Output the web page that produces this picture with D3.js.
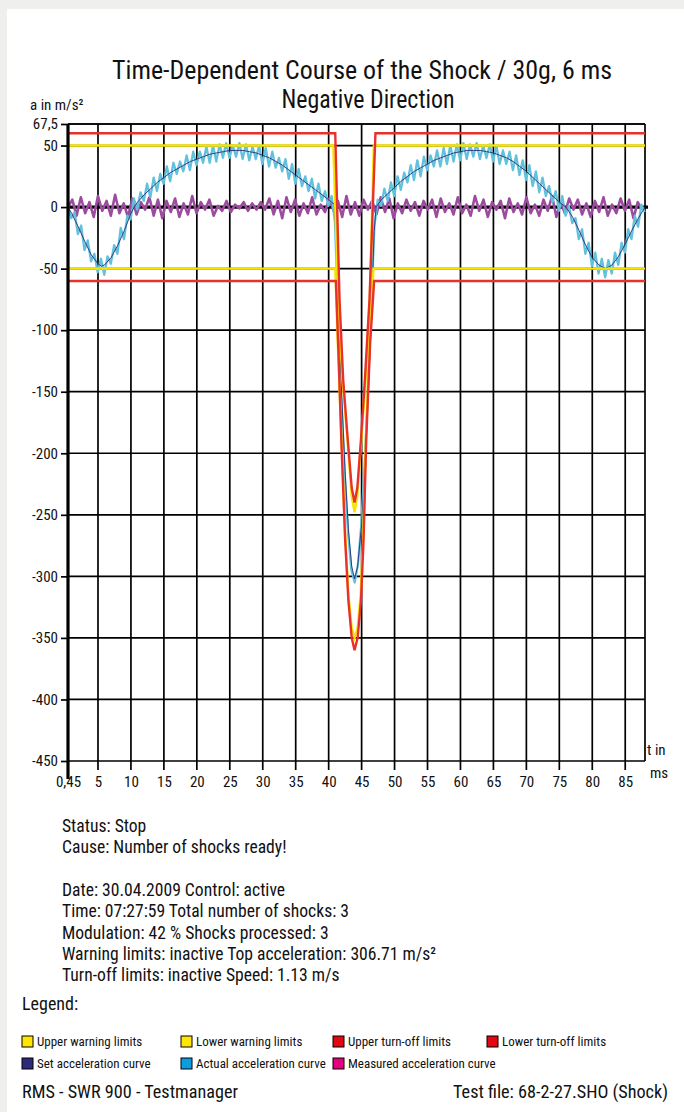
<!DOCTYPE html>
<html><head><meta charset="utf-8">
<script src="https://cdn.jsdelivr.net/npm/d3@7"></script>
<style>
html,body{margin:0;padding:0;background:#efefed;}
svg{display:block;}
text{font-family:"Liberation Sans Narrow","Roboto Condensed","DejaVu Sans Condensed",Roboto,sans-serif;fill:#111;}
</style></head>
<body>
<svg id="chart" width="684" height="1112"></svg>
<script>
// ---------- data ----------
const titleLines = ["Time-Dependent Course of the Shock / 30g, 6 ms", "Negative Direction"];
const yTickValues = [67.5, 50, 0, -50, -100, -150, -200, -250, -300, -350, -400, -450];
const yTickLabels = ["67,5", "50", "0", "-50", "-100", "-150", "-200", "-250", "-300", "-350", "-400", "-450"];
const xTickValues = [0.45, 5, 10, 15, 20, 25, 30, 35, 40, 45, 50, 55, 60, 65, 70, 75, 80, 85];
const xTickLabels = ["0,45", "5", "10", "15", "20", "25", "30", "35", "40", "45", "50", "55", "60", "65", "70", "75", "80", "85"];
const xDomain = [0.45, 88];
const yDomain = [-450, 67.5];

// limit curves (time in ms, acceleration in m/s²)
const upperTurnOffT = [0.45, 41.0, 41.65, 42.2, 42.9, 43.5, 43.93, 44.35, 44.9, 45.5, 46.2, 47.1, 88];
const upperTurnOffA = [60, 60, -75, -140, -189, -228, -240, -228, -189, -140, -75, 60, 60];
const upperWarnT = [0.45, 40.7, 41.45, 42.1, 42.85, 43.5, 43.93, 44.35, 44.95, 45.6, 46.25, 46.85, 88];
const upperWarnA = [50, 50, -75, -140, -189, -235, -248, -235, -189, -140, -75, 50, 50];
const lowerTurnOffT = [0.45, 41.1, 41.5, 41.92, 42.5, 43.0, 43.5, 43.93, 44.4, 44.9, 45.3, 45.7, 46.3, 46.9, 88];
const lowerTurnOffA = [-60, -60, -120, -189, -270, -320, -350, -360, -350, -320, -270, -189, -110, -60, -60];
const lowerWarnT = [0.45, 41.0, 41.45, 41.95, 42.5, 43.0, 43.5, 43.93, 44.4, 44.85, 45.25, 45.65, 46.2, 46.8, 88];
const lowerWarnA = [-50, -50, -120, -189, -265, -315, -342, -350, -342, -315, -265, -189, -110, -50, -50];

// set acceleration curve
const setT = [0.45,1,2,3,4,5,5.5,6,7,8,9,10,10.5,11,12,13,14,15,16,17,18,19,20,21,22,23,24,25,26,27,28,29,30,31,32,33,34,35,36,37,38,39,40,40.9,41.5,42,42.5,43,43.5,43.93,44.4,45,45.5,46,46.5,46.9,47.2,48,49,50,51,52,53,54,55,56,57,58,59,60,61,62,63,64,65,66,67,68,69,70,71,72,73,74,75,76,77,78,79,80,81,82,83,84,85,86,87,88];
const setA = [0,-5,-16,-28,-39,-46,-48,-47,-41,-31,-19,-5,0,4,10,15,20,24,28,31,34,37,39,41,43,44,45,46,46,46,45,44,42,40,37,34,30,26,22,18,14,10,6,2,-85,-155,-215,-262,-292,-302,-292,-258,-212,-152,-85,-20,0,6,11,16,21,25,29,32,35,38,40,42,44,45,46,46,46,45,44,42,40,37,33,29,24,19,14,9,4,0,-8,-19,-31,-41,-47,-50,-47,-40,-30,-19,-9,0];

// actual curve: first sample at 0.45 ms, one sample every 0.5 ms
const actualStart = 0.45, actualStep = 0.5;
const actualA = [
 0,-9,-4,-22,-15,-35,-27,-44,-38,-53,
 -42,-55,-40,-46,-31,-38,-17,-26,-7,-10,
 7,-2,12,5,19,8,24,13,27,19,
 33,21,36,27,37,29,42,30,45,34,
 45,36,49,36,50,37,51,40,52,40,
 50,41,52,39,51,38,49,39,50,35,
 48,33,45,32,40,29,39,23,35,19,
 31,17,25,13,23,7,19,5,13,1,
 9,-12,-85,-158,-218,-265,-295,-305,-290,-258,
 -210,-150,-82,-15,6,1,15,5,20,9,
 25,14,28,20,34,22,38,25,41,30,
 42,33,46,33,48,35,50,37,51,38,
 52,39,51,41,52,39,50,40,51,37,
 50,35,46,35,45,30,42,26,38,22,
 34,17,29,12,24,9,17,4,13,-3,
 9,-7,1,-13,-9,-26,-18,-38,-29,-48,
 -37,-54,-42,-57,-43,-54,-37,-47,-29,-37,
 -18,-26,-7,-16,2,-4];
// measured curve: first sample at 0.45 ms, one sample every 0.65 ms
const measuredStart = 0.45, measuredStep = 0.65;
const measuredA = [
 0,6,-7,8,-5,4,-8,9,-3,5,
 -7,10,-5,3,-8,7,-6,4,-2,8,
 -7,6,-9,5,-4,7,-8,3,-6,9,
 -5,4,-2,6,-7,1,-3,5,-4,2,
 -1,4,-3,3,-2,4,-2,7,-6,5,
 -9,8,-4,6,-7,3,-5,8,-6,2,
 -4,7,-3,5,-8,9,-6,4,-7,6,
 -2,5,-6,8,-4,7,-9,3,-5,6,
 -3,4,-7,5,-2,6,-8,7,-4,3,
 -6,8,-5,2,-7,9,-3,6,-8,4,
 -2,5,-9,7,-4,3,-6,8,-5,2,
 -7,6,-3,9,-8,4,-5,7,-2,6,
 -6,3,-8,5,-4,8,-7,2,-5,7,
 -3,6,-9,4,-2];

const infoLines1 = ["Status: Stop", "Cause: Number of shocks ready!"];
const infoLines2 = ["Date: 30.04.2009 Control: active", "Time: 07:27:59 Total number of shocks: 3", "Modulation: 42 % Shocks processed: 3", "Warning limits: inactive Top acceleration: 306.71 m/s²", "Turn-off limits: inactive Speed: 1.13 m/s"];
const legendNames = ["Upper warning limits", "Lower warning limits", "Upper turn-off limits", "Lower turn-off limits", "Set acceleration curve", "Actual acceleration curve", "Measured acceleration curve"];
const legendColors = ["#ffe600", "#ffe600", "#e30613", "#e30613", "#2d2a7b", "#0a9ee0", "#e6007e"];
const footerLeft = "RMS - SWR 900 - Testmanager";
const footerRight = "Test file: 68-2-27.SHO (Shock)";

// ---------- drawing ----------
const svg = d3.select("#chart");
svg.append("rect").attr("x", 7).attr("y", 9).attr("width", 684).attr("height", 1112).attr("fill", "#fff");

const x = d3.scaleLinear().domain(xDomain).range([68, 645]);
const y = d3.scaleLinear().domain(yDomain).range([761, 124]);

// title
svg.append("text").attr("x", 362).attr("y", 79).attr("text-anchor", "middle").attr("font-size", 26)
  .attr("textLength", 500).attr("lengthAdjust", "spacingAndGlyphs").text(titleLines[0]);
svg.append("text").attr("x", 368).attr("y", 108).attr("text-anchor", "middle").attr("font-size", 25)
  .attr("textLength", 173).attr("lengthAdjust", "spacingAndGlyphs").text(titleLines[1]);
svg.append("text").attr("x", 30).attr("y", 110).attr("font-size", 15).text("a in m/s²");

const g = svg.append("g");
// vertical grid lines (extend below as ticks)
g.selectAll("line.vg").data(xTickValues.slice(1)).join("line")
  .attr("x1", d => x(d)).attr("x2", d => x(d))
  .attr("y1", y(yDomain[1])).attr("y2", y(yDomain[0]) + 9)
  .attr("stroke", "#000").attr("stroke-width", 1.7);
// horizontal grid lines
g.selectAll("line.hg").data(yTickValues.filter(v => v !== 0)).join("line")
  .attr("x1", x(xDomain[0])).attr("x2", x(xDomain[1]))
  .attr("y1", d => y(d)).attr("y2", d => y(d))
  .attr("stroke", "#000").attr("stroke-width", 1.7);
// right frame
g.append("line").attr("x1", x(xDomain[1])).attr("x2", x(xDomain[1]))
  .attr("y1", y(yDomain[1])).attr("y2", y(yDomain[0]))
  .attr("stroke", "#000").attr("stroke-width", 1.7);

// y axis
const yAxis = d3.axisLeft(y).tickValues(yTickValues).tickFormat((d, i) => yTickLabels[i]).tickSize(7).tickSizeOuter(0).tickPadding(3);
const ya = svg.append("g").attr("transform", `translate(${x(xDomain[0])},0)`).call(yAxis);
ya.select(".domain").remove();
ya.selectAll(".tick line").attr("stroke", "#000").attr("stroke-width", 1.7);
ya.selectAll(".tick text").attr("font-size", 15).attr("font-family", null).attr("fill", "#111");

// x axis labels
const xAxis = d3.axisBottom(x).tickValues(xTickValues).tickFormat((d, i) => xTickLabels[i]).tickSize(0).tickSizeOuter(0).tickPadding(15);
const xa = svg.append("g").attr("transform", `translate(0,${y(yDomain[0])})`).call(xAxis);
xa.select(".domain").remove();
xa.selectAll(".tick text").attr("font-size", 15).attr("font-family", null).attr("fill", "#111");
svg.append("text").attr("x", 647).attr("y", 755).attr("font-size", 15).text("t in");
svg.append("text").attr("x", 650).attr("y", 778).attr("font-size", 15).text("ms");

// curves
const lineXY = d3.line().x(d => x(d[0])).y(d => y(d[1]));
const pairs = (T, A) => T.map((t, i) => [t, A[i]]);
const sampled = (A, t0, dt) => A.map((a, i) => [t0 + i * dt, a]);

const plot = svg.append("g");
// zero line
plot.append("line").attr("x1", x(xDomain[0])).attr("x2", x(xDomain[1]) + 3).attr("y1", y(0)).attr("y2", y(0)).attr("stroke", "#000").attr("stroke-width", 3.2);
plot.append("path").attr("d", lineXY(sampled(measuredA, measuredStart, measuredStep))).attr("fill", "none").attr("stroke", "#9c4c9e").attr("stroke-width", 2.6).attr("stroke-linejoin", "round");
plot.append("path").attr("d", lineXY(sampled(actualA, actualStart, actualStep))).attr("fill", "none").attr("stroke", "#62c2dc").attr("stroke-width", 2.3).attr("stroke-linejoin", "round");
plot.append("path").attr("d", lineXY(pairs(setT, setA))).attr("fill", "none").attr("stroke", "#2b2c7c").attr("stroke-width", 0.9);
plot.append("path").attr("d", lineXY(pairs(upperWarnT, upperWarnA))).attr("fill", "none").attr("stroke", "#f7e400").attr("stroke-width", 2.4);
plot.append("path").attr("d", lineXY(pairs(lowerWarnT, lowerWarnA))).attr("fill", "none").attr("stroke", "#f7e400").attr("stroke-width", 2.4);
plot.append("path").attr("d", lineXY(pairs(upperTurnOffT, upperTurnOffA))).attr("fill", "none").attr("stroke", "#e8312b").attr("stroke-width", 2.4);
plot.append("path").attr("d", lineXY(pairs(lowerTurnOffT, lowerTurnOffA))).attr("fill", "none").attr("stroke", "#e8312b").attr("stroke-width", 2.4);

// top frame & left axis
svg.append("line").attr("x1", x(xDomain[0])).attr("x2", x(xDomain[1])).attr("y1", y(yDomain[1])).attr("y2", y(yDomain[1])).attr("stroke", "#000").attr("stroke-width", 1.7);
svg.append("line").attr("x1", x(xDomain[0])).attr("x2", x(xDomain[0])).attr("y1", y(yDomain[1])).attr("y2", y(yDomain[0]) + 18).attr("stroke", "#000").attr("stroke-width", 3.2);

// info text
const info = svg.append("g").attr("font-size", 17.6);
infoLines1.forEach((s, i) => info.append("text").attr("x", 62).attr("y", 832 + i * 21).text(s));
infoLines2.forEach((s, i) => info.append("text").attr("x", 62).attr("y", 896 + i * 21.3).text(s));
svg.append("text").attr("x", 22).attr("y", 1010).attr("font-size", 18).text("Legend:");

// legend
const legCols = [22, 181, 333, 487];
const legRows = [1036, 1058];
legendNames.forEach((name, i) => {
  const col = i < 4 ? i : i - 4, row = i < 4 ? 0 : 1;
  svg.append("rect").attr("x", legCols[col]).attr("y", legRows[row]).attr("width", 11).attr("height", 11)
    .attr("fill", legendColors[i]).attr("stroke", "#000").attr("stroke-width", 1);
  svg.append("text").attr("x", legCols[col] + 15).attr("y", legRows[row] + 10).attr("font-size", 13).text(name);
});

svg.append("text").attr("x", 22).attr("y", 1098).attr("font-size", 18.2).text(footerLeft);
svg.append("text").attr("x", 668).attr("y", 1098).attr("text-anchor", "end").attr("font-size", 18.2).text(footerRight);
</script>
</body></html>
